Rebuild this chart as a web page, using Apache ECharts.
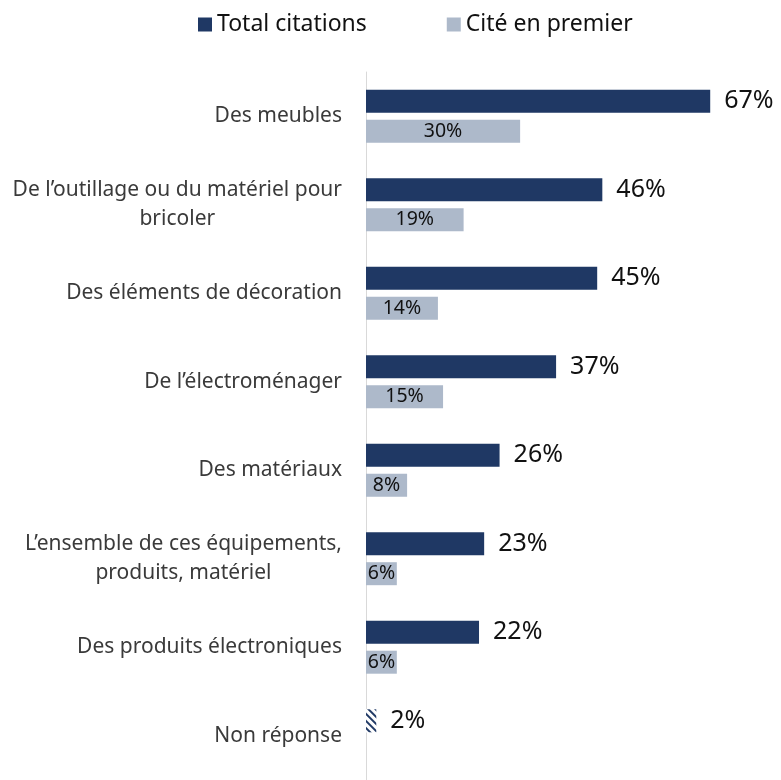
<!DOCTYPE html>
<html>
<head>
<meta charset="utf-8">
<script src="https://cdn.jsdelivr.net/npm/echarts@6/dist/echarts.min.js"></script>
<style>
  html, body { margin: 0; padding: 0; background: #fff; }
  #chart { width: 781px; height: 780px; }
</style>
</head>
<body>
<div id="chart"></div>
<script>
const categories = [
  'Des meubles',
  'De l\u2019outillage ou du matériel pour\nbricoler',
  'Des éléments de décoration',
  'De l\u2019électroménager',
  'Des matériaux',
  'L\u2019ensemble de ces équipements,\nproduits, matériel',
  'Des produits électroniques',
  'Non réponse'
];
const totalCitations = [67, 46, 45, 37, 26, 23, 22, 2];
const citePremier = [30, 19, 14, 15, 8, 6, 6, null];

const darkBlue = '#1F3864';
const lightBlue = '#ADB9CA';
const font = 'Noto Sans';

// last item (Non réponse) is drawn hatched
const totalData = totalCitations.map((v, i) => {
  if (i === totalCitations.length - 1) {
    return {
      value: v,
      itemStyle: {
        color: '#fff',
        decal: {
          symbol: 'rect',
          symbolSize: 1,
          dashArrayX: [1, 0],
          dashArrayY: [2, 3],
          rotation: Math.PI / 4,
          color: darkBlue,
          backgroundColor: '#fff'
        }
      }
    };
  }
  return v;
});

const chart = echarts.init(document.getElementById('chart'));
chart.setOption({
  animation: false,
  textStyle: { fontFamily: font },
  legend: {
    top: 8,
    left: 193,
    itemWidth: 14,
    itemHeight: 14,
    itemGap: 80,
    icon: 'rect',
    textStyle: { fontSize: 23, color: '#111', fontFamily: font, padding: [0, 0, 0, 0] },
    data: ['Total citations', 'Cité en premier']
  },
  grid: { left: 366, width: 411, top: 72, height: 714, containLabel: false },
  xAxis: {
    type: 'value',
    min: 0,
    max: 80,
    show: false
  },
  yAxis: {
    type: 'category',
    inverse: true,
    data: categories,
    axisLine: { show: true, lineStyle: { color: '#D9D9D9', width: 1 } },
    axisTick: { show: false },
    axisLabel: {
      margin: 24,
      color: '#3a3a3a',
      fontSize: 21,
      fontFamily: font,
      lineHeight: 29,
      formatter: function (val) {
        return val.split('\n').map(s => '{c|' + s + '}').join('\n');
      },
      rich: {
        c: { align: 'center', fontSize: 21, lineHeight: 29, color: '#3a3a3a', fontFamily: font }
      }
    }
  },
  series: [
    {
      name: 'Total citations',
      type: 'bar',
      data: totalData,
      barWidth: 23,
      barGap: '30%',
      itemStyle: { color: darkBlue },
      label: {
        show: true,
        position: 'right',
        distance: 14,
        formatter: '{c}%',
        color: '#111',
        fontSize: 25,
        fontFamily: font
      }
    },
    {
      name: 'Cité en premier',
      type: 'bar',
      data: citePremier,
      barWidth: 23,
      itemStyle: { color: lightBlue },
      label: {
        show: true,
        position: 'inside',
        formatter: '{c}%',
        color: '#111',
        fontSize: 19.5,
        fontFamily: font
      }
    }
  ]
});
</script>
</body>
</html>
